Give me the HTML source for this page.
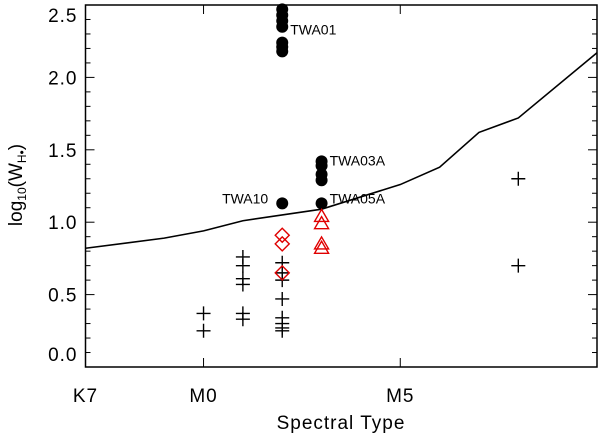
<!DOCTYPE html>
<html><head><meta charset="utf-8"><style>
html,body{margin:0;padding:0;background:#fff}
svg{display:block;font-family:"Liberation Sans",sans-serif}
</style></head><body>
<svg id="chart" width="600" height="437"></svg>
<script>
const plusX=[0,0,1,1,1,1,1,1,2,2,2,2,2,2,2,2,8,8];
const plusY=[0.37,0.25,0.76,0.70,0.61,0.57,0.37,0.33,0.72,0.65,0.60,0.47,0.34,0.30,0.27,0.25,1.30,0.70];
const circX=[2,2,2,2,2,2,2,2,3,3,3,3,3];
const circY=[2.47,2.43,2.39,2.35,2.24,2.21,2.18,1.13,1.42,1.39,1.33,1.29,1.13];
const diamX=[2,2,2];
const diamY=[0.91,0.85,0.65];
const triX=[3,3,3,3];
const triY=[1.04,0.99,0.85,0.82];
const lineX=[-3,-1,0,1,2,3,5,6,7,8,10];
const lineY=[0.82,0.89,0.94,1.01,1.05,1.09,1.26,1.38,1.62,1.72,2.17];
const xTickVals=[-3,0,5];
const xTickLabels=["K7","M0","M5"];
const yTickVals=[0,0.5,1.0,1.5,2.0,2.5];
const yTickLabels=["0.0","0.5","1.0","1.5","2.0","2.5"];
const labelNames=["TWA01","TWA03A","TWA10","TWA05A"];
const labelX=[2,3,2,3];
const labelY=[2.36,1.42,1.13,1.13];

const L=85.5,R=597,T=5,B=367,X0=-3,X1=10,Y0=0,Y1=2.5;
const sx=v=>L+(v-X0)/(X1-X0)*(R-L);
const sy=v=>B-(v-Y0)/(Y1-Y0)*(B-T);
const svg=document.getElementById('chart');
const NS='http://www.w3.org/2000/svg';
function mk(tag,attrs,parent){const e=document.createElementNS(NS,tag);for(const k in attrs)e.setAttribute(k,attrs[k]);(parent||svg).appendChild(e);return e;}

const frame=mk('rect',{x:L,y:T,width:R-L,height:B-T,fill:'none',stroke:'#000','stroke-width':1.5});



for(let v=0;v<=2.5001;v+=0.1){
  const y=sy(v);const major=Math.abs(v*2-Math.round(v*2))<1e-6;const len=major?9:5;
  const t1=mk('line',{x1:L,y1:y,x2:L+len,y2:y,stroke:'#000','stroke-width':1});
  
  
  const t2=mk('line',{x1:R,y1:y,x2:R-len,y2:y,stroke:'#000','stroke-width':1});
  
  
}
yTickVals.forEach((v,i)=>{
  let y=sy(v)+7; if(v===0)y=361; if(v===2.5)y=22;
  const t=mk('text',{x:L-8,y:y,'text-anchor':'end','font-size':19,'letter-spacing':'1'});
  t.textContent=yTickLabels[i];
  
  
});
xTickVals.forEach((v,i)=>{
  const x=sx(v);
  const a=mk('line',{x1:x,y1:B,x2:x,y2:B-9,stroke:'#000'});
  
  
  const b=mk('line',{x1:x,y1:T,x2:x,y2:T+9,stroke:'#000'});
  
  
  const t=mk('text',{x:x,y:402,'text-anchor':'middle','font-size':19,'letter-spacing':'1'});
  t.textContent=xTickLabels[i];
  
  
});
const xt=mk('text',{x:341,y:429,'text-anchor':'middle','font-size':19,'letter-spacing':'1'});
xt.textContent='Spectral Type';


const yt=mk('text',{x:0,y:0,'text-anchor':'middle','font-size':19,transform:'translate(22,185) rotate(-90)'});
yt.innerHTML='log<tspan font-size="12" dy="4">10</tspan><tspan dy="-4">(W</tspan><tspan font-size="12" dy="4">H</tspan><tspan font-size="12" dy="0">\u2022</tspan><tspan dy="-4">)</tspan>';



const pts=lineX.map((v,i)=>sx(v)+','+sy(lineY[i])).join(' ');
const ln=mk('polyline',{points:pts,fill:'none',stroke:'#000','stroke-width':1.6});



plusX.forEach((v,i)=>{
  const x=sx(v),y=sy(plusY[i]);
  const p=mk('path',{d:`M${x-7},${y}H${x+7}M${x},${y-7}V${y+7}`,stroke:'#000','stroke-width':1.4});
  
  
});
circX.forEach((v,i)=>{
  const c=mk('circle',{cx:sx(v),cy:sy(circY[i]),r:6,fill:'#000'});
  
  
});
diamX.forEach((v,i)=>{
  const x=sx(v),y=sy(diamY[i]);
  const d=mk('path',{d:`M${x},${y-7}L${x+7},${y}L${x},${y+7}L${x-7},${y}Z`,fill:'none',stroke:'#e00000','stroke-width':1.4});
  
  
});
triX.forEach((v,i)=>{
  const x=sx(v),y=sy(triY[i]);
  const d=mk('path',{d:`M${x},${y-7}L${x+7},${y+5}L${x-7},${y+5}Z`,fill:'none',stroke:'#e00000','stroke-width':1.4});
  
  
});
const labelDy={"TWA01":9,"TWA03A":4,"TWA10":0,"TWA05A":0};
labelNames.forEach((n,i)=>{
  const right=n==='TWA10';
  const t=mk('text',{x:sx(labelX[i])+(right?-14:8),y:sy(labelY[i])+labelDy[n],'text-anchor':right?'end':'start','font-size':14});
  t.textContent=n;
  
  
});
</script>
</body></html>
